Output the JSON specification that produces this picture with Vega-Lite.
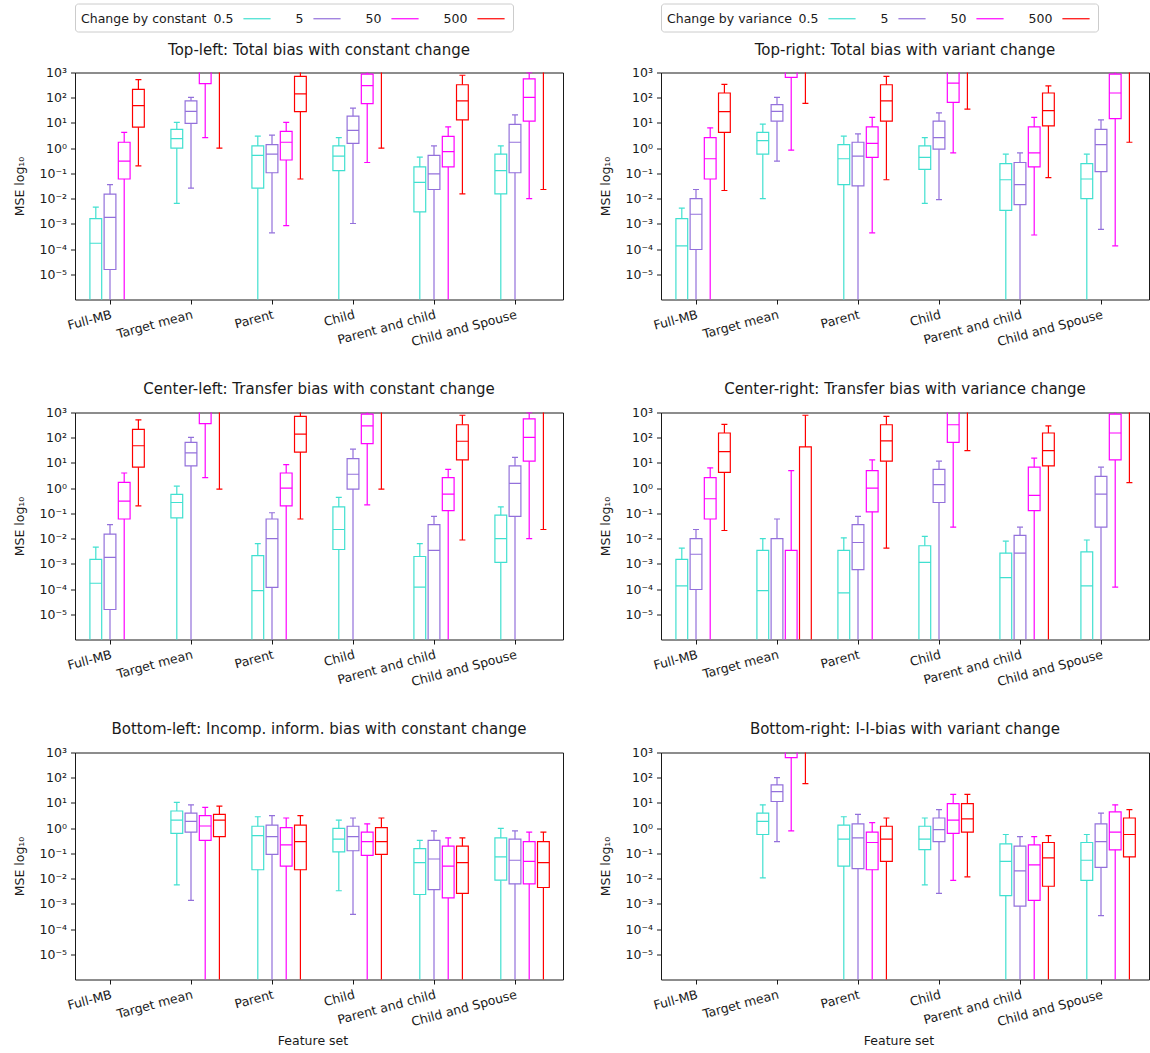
{
"$schema": "https://vega.github.io/schema/vega-lite/v6.json",
"padding": {"left": 13, "top": 2.5, "right": 0, "bottom": 0},
"bounds": "flush",
"columns": 2,
"spacing": {"row": 113, "column": 98},
"data": {"values": [
{"panel":"TL","feature":"Full-MB","series":"0.5","low":1e-7,"q1":1e-7,"median":1.7e-4,"q3":1.6e-3,"high":4.6e-3},
{"panel":"TL","feature":"Full-MB","series":"5","low":1e-7,"q1":1.55e-5,"median":1.8e-3,"q3":0.015,"high":0.036},
{"panel":"TL","feature":"Full-MB","series":"50","low":1e-7,"q1":0.06,"median":0.305,"q3":1.72,"high":4.2},
{"panel":"TL","feature":"Full-MB","series":"500","low":0.2,"q1":6.8,"median":49,"q3":215,"high":525},
{"panel":"TL","feature":"Target mean","series":"0.5","low":6.5e-3,"q1":1.0,"median":2.4,"q3":5.6,"high":10.6},
{"panel":"TL","feature":"Target mean","series":"5","low":0.026,"q1":9.7,"median":29,"q3":75,"high":104},
{"panel":"TL","feature":"Target mean","series":"50","low":2.6,"q1":365,"median":1e5,"q3":1e5,"high":1e5},
{"panel":"TL","feature":"Target mean","series":"500","low":1.0,"q1":1e5,"median":1e5,"q3":1e5,"high":1e5},
{"panel":"TL","feature":"Parent","series":"0.5","low":1e-7,"q1":0.026,"median":0.52,"q3":1.23,"high":3.0},
{"panel":"TL","feature":"Parent","series":"5","low":4.4e-4,"q1":0.106,"median":0.58,"q3":1.38,"high":3.3},
{"panel":"TL","feature":"Parent","series":"50","low":8.5e-4,"q1":0.34,"median":1.72,"q3":4.6,"high":10.6},
{"panel":"TL","feature":"Parent","series":"500","low":0.06,"q1":28,"median":141,"q3":696,"high":1e5},
{"panel":"TL","feature":"Child","series":"0.5","low":1e-7,"q1":0.128,"median":0.48,"q3":1.23,"high":2.6},
{"panel":"TL","feature":"Child","series":"5","low":1.03e-3,"q1":1.54,"median":5.1,"q3":18.5,"high":39},
{"panel":"TL","feature":"Child","series":"50","low":0.27,"q1":58,"median":300,"q3":870,"high":1e5},
{"panel":"TL","feature":"Child","series":"500","low":1.0,"q1":1e5,"median":1e5,"q3":1e5,"high":1e5},
{"panel":"TL","feature":"Parent and child","series":"0.5","low":1e-7,"q1":2.97e-3,"median":0.044,"q3":0.18,"high":0.44},
{"panel":"TL","feature":"Parent and child","series":"5","low":1e-7,"q1":0.023,"median":0.095,"q3":0.52,"high":1.23},
{"panel":"TL","feature":"Parent and child","series":"50","low":1e-7,"q1":0.18,"median":0.73,"q3":2.93,"high":6.95},
{"panel":"TL","feature":"Parent and child","series":"500","low":0.0154,"q1":13.2,"median":75,"q3":327,"high":778},
{"panel":"TL","feature":"Child and Spouse","series":"0.5","low":1e-7,"q1":0.0154,"median":0.128,"q3":0.58,"high":1.23},
{"panel":"TL","feature":"Child and Spouse","series":"5","low":1e-7,"q1":0.106,"median":1.72,"q3":8.7,"high":20.7},
{"panel":"TL","feature":"Child and Spouse","series":"50","low":0.0099,"q1":11.8,"median":104,"q3":556,"high":980},
{"panel":"TL","feature":"Child and Spouse","series":"500","low":0.023,"q1":1e5,"median":1e5,"q3":1e5,"high":1e5},
{"panel":"TR","feature":"Full-MB","series":"0.5","low":1e-7,"q1":1e-7,"median":1.34e-4,"q3":1.6e-3,"high":4.2e-3},
{"panel":"TR","feature":"Full-MB","series":"5","low":1e-7,"q1":9.6e-5,"median":2.4e-3,"q3":9.9e-3,"high":0.023},
{"panel":"TR","feature":"Full-MB","series":"50","low":1e-7,"q1":0.06,"median":0.38,"q3":2.6,"high":6.4},
{"panel":"TR","feature":"Full-MB","series":"500","low":0.021,"q1":4.2,"median":28,"q3":154,"high":337},
{"panel":"TR","feature":"Target mean","series":"0.5","low":0.0099,"q1":0.58,"median":1.98,"q3":4.2,"high":9.0},
{"panel":"TR","feature":"Target mean","series":"5","low":0.305,"q1":11.8,"median":29,"q3":53,"high":104},
{"panel":"TR","feature":"Target mean","series":"50","low":0.83,"q1":640,"median":1e5,"q3":1e5,"high":1e5},
{"panel":"TR","feature":"Target mean","series":"500","low":60,"q1":1e5,"median":1e5,"q3":1e5,"high":1e5},
{"panel":"TR","feature":"Parent","series":"0.5","low":1e-7,"q1":0.036,"median":0.38,"q3":1.38,"high":3.0},
{"panel":"TR","feature":"Parent","series":"5","low":1e-7,"q1":0.032,"median":0.48,"q3":1.72,"high":3.66},
{"panel":"TR","feature":"Parent","series":"50","low":4.4e-4,"q1":0.43,"median":1.54,"q3":6.95,"high":16.5},
{"panel":"TR","feature":"Parent","series":"500","low":0.056,"q1":11.8,"median":75,"q3":327,"high":696},
{"panel":"TR","feature":"Child","series":"0.5","low":6.5e-3,"q1":0.144,"median":0.43,"q3":1.23,"high":2.6},
{"panel":"TR","feature":"Child","series":"5","low":9.1e-3,"q1":0.91,"median":2.6,"q3":11.8,"high":25},
{"panel":"TR","feature":"Child","series":"50","low":0.65,"q1":65,"median":377,"q3":1e5,"high":1e5},
{"panel":"TR","feature":"Child","series":"500","low":35,"q1":1e5,"median":1e5,"q3":1e5,"high":1e5},
{"panel":"TR","feature":"Parent and child","series":"0.5","low":1e-7,"q1":3.4e-3,"median":0.056,"q3":0.244,"high":0.58},
{"panel":"TR","feature":"Parent and child","series":"5","low":1e-7,"q1":5.8e-3,"median":0.036,"q3":0.27,"high":0.65},
{"panel":"TR","feature":"Parent and child","series":"50","low":3.6e-4,"q1":0.18,"median":0.65,"q3":6.95,"high":16.5},
{"panel":"TR","feature":"Parent and child","series":"500","low":0.068,"q1":7.6,"median":31,"q3":154,"high":293},
{"panel":"TR","feature":"Child and Spouse","series":"0.5","low":1e-7,"q1":0.0099,"median":0.06,"q3":0.244,"high":0.58},
{"panel":"TR","feature":"Child and Spouse","series":"5","low":6.0e-4,"q1":0.118,"median":1.38,"q3":5.6,"high":13.2},
{"panel":"TR","feature":"Child and Spouse","series":"50","low":1.34e-4,"q1":14.8,"median":154,"q3":870,"high":1e5},
{"panel":"TR","feature":"Child and Spouse","series":"500","low":1.72,"q1":1e5,"median":1e5,"q3":1e5,"high":1e5},
{"panel":"CL","feature":"Full-MB","series":"0.5","low":1e-7,"q1":1e-7,"median":1.7e-4,"q3":1.5e-3,"high":4.6e-3},
{"panel":"CL","feature":"Full-MB","series":"5","low":1e-7,"q1":1.55e-5,"median":1.8e-3,"q3":0.015,"high":0.036},
{"panel":"CL","feature":"Full-MB","series":"50","low":1e-7,"q1":0.06,"median":0.305,"q3":1.7,"high":4.0},
{"panel":"CL","feature":"Full-MB","series":"500","low":0.2,"q1":6.8,"median":48,"q3":215,"high":512},
{"panel":"CL","feature":"Target mean","series":"0.5","low":1e-7,"q1":0.066,"median":0.27,"q3":0.565,"high":1.2},
{"panel":"CL","feature":"Target mean","series":"5","low":1e-7,"q1":7.6,"median":25,"q3":65,"high":104},
{"panel":"CL","feature":"Target mean","series":"50","low":2.6,"q1":365,"median":1e5,"q3":1e5,"high":1e5},
{"panel":"CL","feature":"Target mean","series":"500","low":0.91,"q1":1e5,"median":1e5,"q3":1e5,"high":1e5},
{"panel":"CL","feature":"Parent","series":"0.5","low":1e-7,"q1":1e-7,"median":8.6e-5,"q3":2.1e-3,"high":6.3e-3},
{"panel":"CL","feature":"Parent","series":"5","low":1e-7,"q1":1.17e-4,"median":0.0099,"q3":0.06,"high":0.106},
{"panel":"CL","feature":"Parent","series":"50","low":1e-7,"q1":0.2,"median":1.0,"q3":4.0,"high":8.5},
{"panel":"CL","feature":"Parent","series":"500","low":0.06,"q1":27,"median":138,"q3":696,"high":1e5},
{"panel":"CL","feature":"Child","series":"0.5","low":1e-7,"q1":3.7e-3,"median":0.023,"q3":0.18,"high":0.43},
{"panel":"CL","feature":"Child","series":"5","low":1e-7,"q1":0.91,"median":3.56,"q3":14.8,"high":35},
{"panel":"CL","feature":"Child","series":"50","low":0.218,"q1":58,"median":293,"q3":870,"high":1e5},
{"panel":"CL","feature":"Child","series":"500","low":0.91,"q1":1e5,"median":1e5,"q3":1e5,"high":1e5},
{"panel":"CL","feature":"Parent and child","series":"0.5","low":1e-7,"q1":1e-7,"median":1.2e-4,"q3":1.95e-3,"high":6.3e-3},
{"panel":"CL","feature":"Parent and child","series":"5","low":1e-7,"q1":1e-7,"median":3.4e-3,"q3":0.0356,"high":0.0757},
{"panel":"CL","feature":"Parent and child","series":"50","low":1e-7,"q1":0.128,"median":0.58,"q3":2.6,"high":5.6},
{"panel":"CL","feature":"Parent and child","series":"500","low":8.8e-3,"q1":13.2,"median":72.6,"q3":327,"high":778},
{"panel":"CL","feature":"Child and Spouse","series":"0.5","low":1e-7,"q1":1.15e-3,"median":0.0099,"q3":0.0846,"high":0.18},
{"panel":"CL","feature":"Child and Spouse","series":"5","low":1e-7,"q1":0.0757,"median":1.54,"q3":7.6,"high":16.5},
{"panel":"CL","feature":"Child and Spouse","series":"50","low":0.0099,"q1":11.8,"median":104,"q3":556,"high":980},
{"panel":"CL","feature":"Child and Spouse","series":"500","low":0.023,"q1":1e5,"median":1e5,"q3":1e5,"high":1e5},
{"panel":"CR","feature":"Full-MB","series":"0.5","low":1e-7,"q1":1e-7,"median":1.34e-4,"q3":1.5e-3,"high":4.2e-3},
{"panel":"CR","feature":"Full-MB","series":"5","low":1e-7,"q1":9.6e-5,"median":2.4e-3,"q3":0.0099,"high":0.023},
{"panel":"CR","feature":"Full-MB","series":"50","low":1e-7,"q1":0.06,"median":0.38,"q3":2.6,"high":6.4},
{"panel":"CR","feature":"Full-MB","series":"500","low":0.021,"q1":4.2,"median":28,"q3":154,"high":337},
{"panel":"CR","feature":"Target mean","series":"0.5","low":1e-7,"q1":1e-7,"median":8.6e-5,"q3":3.4e-3,"high":0.0099},
{"panel":"CR","feature":"Target mean","series":"5","low":1e-7,"q1":1e-7,"median":1e-7,"q3":0.0099,"high":0.06},
{"panel":"CR","feature":"Target mean","series":"50","low":1e-7,"q1":1e-7,"median":1e-7,"q3":3.4e-3,"high":5.0},
{"panel":"CR","feature":"Target mean","series":"500","low":1e-7,"q1":1e-7,"median":1e-7,"q3":43,"high":778},
{"panel":"CR","feature":"Parent","series":"0.5","low":1e-7,"q1":1e-7,"median":7.0e-5,"q3":3.4e-3,"high":0.0107},
{"panel":"CR","feature":"Parent","series":"5","low":1e-7,"q1":5.9e-4,"median":7.0e-3,"q3":0.0356,"high":0.0757},
{"panel":"CR","feature":"Parent","series":"50","low":1e-7,"q1":0.115,"median":1.0,"q3":5.0,"high":13.2},
{"panel":"CR","feature":"Parent","series":"500","low":4.2e-3,"q1":11.8,"median":75,"q3":327,"high":696},
{"panel":"CR","feature":"Child","series":"0.5","low":1e-7,"q1":1e-7,"median":1.15e-3,"q3":5.2e-3,"high":0.0123},
{"panel":"CR","feature":"Child","series":"5","low":1e-7,"q1":0.27,"median":1.38,"q3":5.6,"high":11.8},
{"panel":"CR","feature":"Child","series":"50","low":0.0285,"q1":65,"median":327,"q3":1e5,"high":1e5},
{"panel":"CR","feature":"Child","series":"500","low":31,"q1":1e5,"median":1e5,"q3":1e5,"high":1e5},
{"panel":"CR","feature":"Parent and child","series":"0.5","low":1e-7,"q1":1e-7,"median":2.85e-4,"q3":2.65e-3,"high":7.9e-3},
{"panel":"CR","feature":"Parent and child","series":"5","low":1e-7,"q1":1e-7,"median":2.65e-3,"q3":0.0134,"high":0.0285},
{"panel":"CR","feature":"Parent and child","series":"50","low":1e-7,"q1":0.128,"median":0.52,"q3":6.8,"high":15.6},
{"panel":"CR","feature":"Parent and child","series":"500","low":1e-7,"q1":7.6,"median":31,"q3":154,"high":293},
{"panel":"CR","feature":"Child and Spouse","series":"0.5","low":1e-7,"q1":1e-7,"median":1.34e-4,"q3":2.97e-3,"high":8.8e-3},
{"panel":"CR","feature":"Child and Spouse","series":"5","low":1e-7,"q1":0.0285,"median":0.58,"q3":2.93,"high":6.8},
{"panel":"CR","feature":"Child and Spouse","series":"50","low":1.2e-4,"q1":13.2,"median":154,"q3":870,"high":1e5},
{"panel":"CR","feature":"Child and Spouse","series":"500","low":1.67,"q1":1e5,"median":1e5,"q3":1e5,"high":1e5},
{"panel":"BL","feature":"Target mean","series":"0.5","low":5.6e-3,"q1":0.625,"median":2.08,"q3":4.8,"high":10.5},
{"panel":"BL","feature":"Target mean","series":"5","low":1.37e-3,"q1":0.7,"median":1.86,"q3":3.95,"high":8.4},
{"panel":"BL","feature":"Target mean","series":"50","low":1e-7,"q1":0.33,"median":1.22,"q3":3.16,"high":6.7},
{"panel":"BL","feature":"Target mean","series":"500","low":1e-7,"q1":0.46,"median":2.08,"q3":3.54,"high":7.5},
{"panel":"BL","feature":"Parent","series":"0.5","low":1e-7,"q1":0.0225,"median":0.51,"q3":1.19,"high":2.83},
{"panel":"BL","feature":"Parent","series":"5","low":1e-7,"q1":0.091,"median":0.46,"q3":1.33,"high":3.16},
{"panel":"BL","feature":"Parent","series":"50","low":1e-7,"q1":0.0315,"median":0.216,"q3":1.06,"high":2.53},
{"panel":"BL","feature":"Parent","series":"500","low":1e-7,"q1":0.0225,"median":0.294,"q3":1.33,"high":3.16},
{"panel":"BL","feature":"Child","series":"0.5","low":3.3e-3,"q1":0.114,"median":0.37,"q3":0.98,"high":2.08},
{"panel":"BL","feature":"Child","series":"5","low":3.8e-4,"q1":0.127,"median":0.46,"q3":1.19,"high":2.53},
{"panel":"BL","feature":"Child","series":"50","low":1e-7,"q1":0.0836,"median":0.294,"q3":0.7,"high":1.49},
{"panel":"BL","feature":"Child","series":"500","low":1e-7,"q1":0.091,"median":0.294,"q3":1.06,"high":2.53},
{"panel":"BL","feature":"Parent and child","series":"0.5","low":1e-7,"q1":2.34e-3,"median":0.043,"q3":0.155,"high":0.33},
{"panel":"BL","feature":"Parent and child","series":"5","low":1e-7,"q1":3.66e-3,"median":0.06,"q3":0.33,"high":0.78},
{"panel":"BL","feature":"Parent and child","series":"50","low":1e-7,"q1":1.72e-3,"median":0.0315,"q3":0.193,"high":0.41},
{"panel":"BL","feature":"Parent and child","series":"500","low":1e-7,"q1":2.6e-3,"median":0.043,"q3":0.193,"high":0.41},
{"panel":"BL","feature":"Child and Spouse","series":"0.5","low":1e-7,"q1":8.7e-3,"median":0.073,"q3":0.41,"high":0.98},
{"panel":"BL","feature":"Child and Spouse","series":"5","low":1e-7,"q1":6.2e-3,"median":0.0535,"q3":0.37,"high":0.78},
{"panel":"BL","feature":"Child and Spouse","series":"50","low":1e-7,"q1":6.2e-3,"median":0.0478,"q3":0.294,"high":0.7},
{"panel":"BL","feature":"Child and Spouse","series":"500","low":1e-7,"q1":4.45e-3,"median":0.043,"q3":0.294,"high":0.7},
{"panel":"BR","feature":"Target mean","series":"0.5","low":0.0106,"q1":0.56,"median":1.86,"q3":3.95,"high":8.4},
{"panel":"BR","feature":"Target mean","series":"5","low":0.294,"q1":11.4,"median":28,"q3":52,"high":101},
{"panel":"BR","feature":"Target mean","series":"50","low":0.78,"q1":622,"median":1e5,"q3":1e5,"high":1e5},
{"panel":"BR","feature":"Target mean","series":"500","low":58,"q1":1e5,"median":1e5,"q3":1e5,"high":1e5},
{"panel":"BR","feature":"Parent","series":"0.5","low":1e-7,"q1":0.0315,"median":0.37,"q3":1.33,"high":2.83},
{"panel":"BR","feature":"Parent","series":"5","low":1e-7,"q1":0.025,"median":0.41,"q3":1.49,"high":3.54},
{"panel":"BR","feature":"Parent","series":"50","low":1e-7,"q1":0.0225,"median":0.27,"q3":0.7,"high":1.66},
{"panel":"BR","feature":"Parent","series":"500","low":1e-7,"q1":0.0478,"median":0.37,"q3":1.19,"high":2.53},
{"panel":"BR","feature":"Child","series":"0.5","low":5.6e-3,"q1":0.142,"median":0.37,"q3":1.19,"high":2.53},
{"panel":"BR","feature":"Child","series":"5","low":2.6e-3,"q1":0.294,"median":0.875,"q3":2.53,"high":5.4},
{"panel":"BR","feature":"Child","series":"50","low":8.5e-3,"q1":0.625,"median":2.08,"q3":9.4,"high":21.7},
{"panel":"BR","feature":"Child","series":"500","low":0.0118,"q1":0.7,"median":2.33,"q3":9.4,"high":21.7},
{"panel":"BR","feature":"Parent and child","series":"0.5","low":1e-7,"q1":2.1e-3,"median":0.0478,"q3":0.24,"high":0.56},
{"panel":"BR","feature":"Parent and child","series":"5","low":1e-7,"q1":8.1e-4,"median":0.0201,"q3":0.193,"high":0.46},
{"panel":"BR","feature":"Parent and child","series":"50","low":1e-7,"q1":1.37e-3,"median":0.0351,"q3":0.216,"high":0.46},
{"panel":"BR","feature":"Parent and child","series":"500","low":1e-7,"q1":4.98e-3,"median":0.0668,"q3":0.27,"high":0.51},
{"panel":"BR","feature":"Child and Spouse","series":"0.5","low":1e-7,"q1":8.5e-3,"median":0.0535,"q3":0.27,"high":0.56},
{"panel":"BR","feature":"Child and Spouse","series":"5","low":3.4e-4,"q1":0.0281,"median":0.294,"q3":1.49,"high":3.95},
{"panel":"BR","feature":"Child and Spouse","series":"50","low":1e-7,"q1":0.138,"median":0.7,"q3":4.43,"high":8.4},
{"panel":"BR","feature":"Child and Spouse","series":"500","low":1e-7,"q1":0.073,"median":0.56,"q3":2.53,"high":5.4}
]},
"resolve": {"scale": {"color": "independent", "strokeWidth": "independent"}, "legend": {"color": "independent", "strokeWidth": "independent"}},
"concat": [
 {"width": 488, "height": 227, "title": {"text": "Top-left: Total bias with constant change", "offset": -54.5},
  "transform": [{"filter": "datum.panel === 'TL'"}],
  "encoding": {
   "x": {"field": "feature", "type": "nominal", "scale": {"domain": ["Full-MB","Target mean","Parent","Child","Parent and child","Child and Spouse"], "range": [-5.5, 480.5], "paddingInner": 0, "paddingOuter": 0}, "axis": {"title": null}},
   "xOffset": {"field": "series", "type": "nominal", "scale": {"domain": ["0.5","5","50","500"], "paddingInner": 0.17, "paddingOuter": 0.937, "align": 0.767}},
   "color": {"field": "series", "type": "nominal", "scale": {"domain": ["0.5","5","50","500"], "range": ["#40E0D0","#9370DB","#FF00FF","#FF0000"]},
     "legend": {"title": "Change by constant", "orient": "none", "legendX": 0, "legendY": -69, "direction": "horizontal", "titleOrient": "left", "titleAnchor": "start", "titleAlign": "left", "titleBaseline": "line-top", "titleLineHeight": 18, "titlePadding": 41, "labelBaseline": "middle", "labelAlign": "right", "labelOffset": -32.6, "symbolType": "M-1.7,0H1.7", "symbolSize": 256, "symbolStrokeWidth": 1.8, "symbolOpacity": 1, "columnPadding": 22, "padding": 6, "strokeColor": "#cccccc", "fillColor": "white", "cornerRadius": 3}},
   "strokeWidth": {"field": "series", "type": "nominal", "scale": {"domain": ["0.5","5","50","500"], "range": [1.2,1.2,1.6,1.6]}, "legend": null}
  },
  "layer": [
   {"mark": {"type": "rule", "clip": true}, "encoding": {"y": {"field": "low", "type": "quantitative", "scale": {"type": "log", "domain": [5.5e-6, 1000]}, "axis": {"title": "MSE log₁₀", "values": [1e-5,1e-4,1e-3,1e-2,1e-1,1,10,100,1000], "labelExpr": "datum.value >= 999 ? '10³' : datum.value >= 99 ? '10²' : datum.value >= 9 ? '10¹' : datum.value >= 0.9 ? '10⁰' : datum.value >= 0.09 ? '10⁻¹' : datum.value >= 0.009 ? '10⁻²' : datum.value >= 0.0009 ? '10⁻³' : datum.value >= 0.00009 ? '10⁻⁴' : '10⁻⁵'"}}, "y2": {"field": "q1"}}},
   {"mark": {"type": "rule", "clip": true}, "encoding": {"y": {"field": "q3", "type": "quantitative"}, "y2": {"field": "high"}}},
   {"mark": {"type": "bar", "clip": true, "filled": false}, "encoding": {"y": {"field": "q1", "type": "quantitative"}, "y2": {"field": "q3"}}},
   {"mark": {"type": "point", "clip": true, "shape": "stroke", "filled": false, "opacity": 1, "size": 139}, "encoding": {"y": {"field": "median", "type": "quantitative"}}},
   {"mark": {"type": "point", "clip": true, "shape": "stroke", "filled": false, "opacity": 1, "size": 36}, "encoding": {"y": {"field": "low", "type": "quantitative"}}},
   {"mark": {"type": "point", "clip": true, "shape": "stroke", "filled": false, "opacity": 1, "size": 36}, "encoding": {"y": {"field": "high", "type": "quantitative"}}}
  ]
 },
 {"width": 488, "height": 227, "title": {"text": "Top-right: Total bias with variant change", "offset": -54.5},
  "transform": [{"filter": "datum.panel === 'TR'"}],
  "encoding": {
   "x": {"field": "feature", "type": "nominal", "scale": {"domain": ["Full-MB","Target mean","Parent","Child","Parent and child","Child and Spouse"], "range": [-5.5, 480.5], "paddingInner": 0, "paddingOuter": 0}, "axis": {"title": null}},
   "xOffset": {"field": "series", "type": "nominal", "scale": {"domain": ["0.5","5","50","500"], "paddingInner": 0.17, "paddingOuter": 0.937, "align": 0.767}},
   "color": {"field": "series", "type": "nominal", "scale": {"domain": ["0.5","5","50","500"], "range": ["#40E0D0","#9370DB","#FF00FF","#FF0000"]},
     "legend": {"title": "Change by variance", "orient": "none", "legendX": 0, "legendY": -69, "direction": "horizontal", "titleOrient": "left", "titleAnchor": "start", "titleAlign": "left", "titleBaseline": "line-top", "titleLineHeight": 18, "titlePadding": 41, "labelBaseline": "middle", "labelAlign": "right", "labelOffset": -32.6, "symbolType": "M-1.7,0H1.7", "symbolSize": 256, "symbolStrokeWidth": 1.8, "symbolOpacity": 1, "columnPadding": 22, "padding": 6, "strokeColor": "#cccccc", "fillColor": "white", "cornerRadius": 3}},
   "strokeWidth": {"field": "series", "type": "nominal", "scale": {"domain": ["0.5","5","50","500"], "range": [1.2,1.2,1.6,1.6]}, "legend": null}
  },
  "layer": [
   {"mark": {"type": "rule", "clip": true}, "encoding": {"y": {"field": "low", "type": "quantitative", "scale": {"type": "log", "domain": [5.5e-6, 1000]}, "axis": {"title": "MSE log₁₀", "values": [1e-5,1e-4,1e-3,1e-2,1e-1,1,10,100,1000], "labelExpr": "datum.value >= 999 ? '10³' : datum.value >= 99 ? '10²' : datum.value >= 9 ? '10¹' : datum.value >= 0.9 ? '10⁰' : datum.value >= 0.09 ? '10⁻¹' : datum.value >= 0.009 ? '10⁻²' : datum.value >= 0.0009 ? '10⁻³' : datum.value >= 0.00009 ? '10⁻⁴' : '10⁻⁵'"}}, "y2": {"field": "q1"}}},
   {"mark": {"type": "rule", "clip": true}, "encoding": {"y": {"field": "q3", "type": "quantitative"}, "y2": {"field": "high"}}},
   {"mark": {"type": "bar", "clip": true, "filled": false}, "encoding": {"y": {"field": "q1", "type": "quantitative"}, "y2": {"field": "q3"}}},
   {"mark": {"type": "point", "clip": true, "shape": "stroke", "filled": false, "opacity": 1, "size": 139}, "encoding": {"y": {"field": "median", "type": "quantitative"}}},
   {"mark": {"type": "point", "clip": true, "shape": "stroke", "filled": false, "opacity": 1, "size": 36}, "encoding": {"y": {"field": "low", "type": "quantitative"}}},
   {"mark": {"type": "point", "clip": true, "shape": "stroke", "filled": false, "opacity": 1, "size": 36}, "encoding": {"y": {"field": "high", "type": "quantitative"}}}
  ]
 },
 {"width": 488, "height": 227, "title": {"text": "Center-left: Transfer bias with constant change", "offset": 10},
  "transform": [{"filter": "datum.panel === 'CL'"}],
  "encoding": {
   "x": {"field": "feature", "type": "nominal", "scale": {"domain": ["Full-MB","Target mean","Parent","Child","Parent and child","Child and Spouse"], "range": [-5.5, 480.5], "paddingInner": 0, "paddingOuter": 0}, "axis": {"title": null}},
   "xOffset": {"field": "series", "type": "nominal", "scale": {"domain": ["0.5","5","50","500"], "paddingInner": 0.17, "paddingOuter": 0.937, "align": 0.767}},
   "color": {"field": "series", "type": "nominal", "scale": {"domain": ["0.5","5","50","500"], "range": ["#40E0D0","#9370DB","#FF00FF","#FF0000"]}, "legend": null},
   "strokeWidth": {"field": "series", "type": "nominal", "scale": {"domain": ["0.5","5","50","500"], "range": [1.2,1.2,1.6,1.6]}, "legend": null}
  },
  "layer": [
   {"mark": {"type": "rule", "clip": true}, "encoding": {"y": {"field": "low", "type": "quantitative", "scale": {"type": "log", "domain": [5.5e-6, 1000]}, "axis": {"title": "MSE log₁₀", "values": [1e-5,1e-4,1e-3,1e-2,1e-1,1,10,100,1000], "labelExpr": "datum.value >= 999 ? '10³' : datum.value >= 99 ? '10²' : datum.value >= 9 ? '10¹' : datum.value >= 0.9 ? '10⁰' : datum.value >= 0.09 ? '10⁻¹' : datum.value >= 0.009 ? '10⁻²' : datum.value >= 0.0009 ? '10⁻³' : datum.value >= 0.00009 ? '10⁻⁴' : '10⁻⁵'"}}, "y2": {"field": "q1"}}},
   {"mark": {"type": "rule", "clip": true}, "encoding": {"y": {"field": "q3", "type": "quantitative"}, "y2": {"field": "high"}}},
   {"mark": {"type": "bar", "clip": true, "filled": false}, "encoding": {"y": {"field": "q1", "type": "quantitative"}, "y2": {"field": "q3"}}},
   {"mark": {"type": "point", "clip": true, "shape": "stroke", "filled": false, "opacity": 1, "size": 139}, "encoding": {"y": {"field": "median", "type": "quantitative"}}},
   {"mark": {"type": "point", "clip": true, "shape": "stroke", "filled": false, "opacity": 1, "size": 36}, "encoding": {"y": {"field": "low", "type": "quantitative"}}},
   {"mark": {"type": "point", "clip": true, "shape": "stroke", "filled": false, "opacity": 1, "size": 36}, "encoding": {"y": {"field": "high", "type": "quantitative"}}}
  ]
 },
 {"width": 488, "height": 227, "title": {"text": "Center-right: Transfer bias with variance change", "offset": 10},
  "transform": [{"filter": "datum.panel === 'CR'"}],
  "encoding": {
   "x": {"field": "feature", "type": "nominal", "scale": {"domain": ["Full-MB","Target mean","Parent","Child","Parent and child","Child and Spouse"], "range": [-5.5, 480.5], "paddingInner": 0, "paddingOuter": 0}, "axis": {"title": null}},
   "xOffset": {"field": "series", "type": "nominal", "scale": {"domain": ["0.5","5","50","500"], "paddingInner": 0.17, "paddingOuter": 0.937, "align": 0.767}},
   "color": {"field": "series", "type": "nominal", "scale": {"domain": ["0.5","5","50","500"], "range": ["#40E0D0","#9370DB","#FF00FF","#FF0000"]}, "legend": null},
   "strokeWidth": {"field": "series", "type": "nominal", "scale": {"domain": ["0.5","5","50","500"], "range": [1.2,1.2,1.6,1.6]}, "legend": null}
  },
  "layer": [
   {"mark": {"type": "rule", "clip": true}, "encoding": {"y": {"field": "low", "type": "quantitative", "scale": {"type": "log", "domain": [5.5e-6, 1000]}, "axis": {"title": "MSE log₁₀", "values": [1e-5,1e-4,1e-3,1e-2,1e-1,1,10,100,1000], "labelExpr": "datum.value >= 999 ? '10³' : datum.value >= 99 ? '10²' : datum.value >= 9 ? '10¹' : datum.value >= 0.9 ? '10⁰' : datum.value >= 0.09 ? '10⁻¹' : datum.value >= 0.009 ? '10⁻²' : datum.value >= 0.0009 ? '10⁻³' : datum.value >= 0.00009 ? '10⁻⁴' : '10⁻⁵'"}}, "y2": {"field": "q1"}}},
   {"mark": {"type": "rule", "clip": true}, "encoding": {"y": {"field": "q3", "type": "quantitative"}, "y2": {"field": "high"}}},
   {"mark": {"type": "bar", "clip": true, "filled": false}, "encoding": {"y": {"field": "q1", "type": "quantitative"}, "y2": {"field": "q3"}}},
   {"mark": {"type": "point", "clip": true, "shape": "stroke", "filled": false, "opacity": 1, "size": 139}, "encoding": {"y": {"field": "median", "type": "quantitative"}}},
   {"mark": {"type": "point", "clip": true, "shape": "stroke", "filled": false, "opacity": 1, "size": 36}, "encoding": {"y": {"field": "low", "type": "quantitative"}}},
   {"mark": {"type": "point", "clip": true, "shape": "stroke", "filled": false, "opacity": 1, "size": 36}, "encoding": {"y": {"field": "high", "type": "quantitative"}}}
  ]
 },
 {"width": 488, "height": 227, "title": {"text": "Bottom-left: Incomp. inform. bias with constant change", "offset": 10},
  "transform": [{"filter": "datum.panel === 'BL'"}],
  "encoding": {
   "x": {"field": "feature", "type": "nominal", "scale": {"domain": ["Full-MB","Target mean","Parent","Child","Parent and child","Child and Spouse"], "range": [-5.5, 480.5], "paddingInner": 0, "paddingOuter": 0}, "axis": {"title": "Feature set", "titlePadding": 6}},
   "xOffset": {"field": "series", "type": "nominal", "scale": {"domain": ["0.5","5","50","500"], "paddingInner": 0.17, "paddingOuter": 0.937, "align": 0.767}},
   "color": {"field": "series", "type": "nominal", "scale": {"domain": ["0.5","5","50","500"], "range": ["#40E0D0","#9370DB","#FF00FF","#FF0000"]}, "legend": null},
   "strokeWidth": {"field": "series", "type": "nominal", "scale": {"domain": ["0.5","5","50","500"], "range": [1.2,1.2,1.6,1.6]}, "legend": null}
  },
  "layer": [
   {"mark": {"type": "rule", "clip": true}, "encoding": {"y": {"field": "low", "type": "quantitative", "scale": {"type": "log", "domain": [5.5e-6, 1000]}, "axis": {"title": "MSE log₁₀", "values": [1e-5,1e-4,1e-3,1e-2,1e-1,1,10,100,1000], "labelExpr": "datum.value >= 999 ? '10³' : datum.value >= 99 ? '10²' : datum.value >= 9 ? '10¹' : datum.value >= 0.9 ? '10⁰' : datum.value >= 0.09 ? '10⁻¹' : datum.value >= 0.009 ? '10⁻²' : datum.value >= 0.0009 ? '10⁻³' : datum.value >= 0.00009 ? '10⁻⁴' : '10⁻⁵'"}}, "y2": {"field": "q1"}}},
   {"mark": {"type": "rule", "clip": true}, "encoding": {"y": {"field": "q3", "type": "quantitative"}, "y2": {"field": "high"}}},
   {"mark": {"type": "bar", "clip": true, "filled": false}, "encoding": {"y": {"field": "q1", "type": "quantitative"}, "y2": {"field": "q3"}}},
   {"mark": {"type": "point", "clip": true, "shape": "stroke", "filled": false, "opacity": 1, "size": 139}, "encoding": {"y": {"field": "median", "type": "quantitative"}}},
   {"mark": {"type": "point", "clip": true, "shape": "stroke", "filled": false, "opacity": 1, "size": 36}, "encoding": {"y": {"field": "low", "type": "quantitative"}}},
   {"mark": {"type": "point", "clip": true, "shape": "stroke", "filled": false, "opacity": 1, "size": 36}, "encoding": {"y": {"field": "high", "type": "quantitative"}}}
  ]
 },
 {"width": 488, "height": 227, "title": {"text": "Bottom-right: I-I-bias  with variant change", "offset": 10},
  "transform": [{"filter": "datum.panel === 'BR'"}],
  "encoding": {
   "x": {"field": "feature", "type": "nominal", "scale": {"domain": ["Full-MB","Target mean","Parent","Child","Parent and child","Child and Spouse"], "range": [-5.5, 480.5], "paddingInner": 0, "paddingOuter": 0}, "axis": {"title": "Feature set", "titlePadding": 6}},
   "xOffset": {"field": "series", "type": "nominal", "scale": {"domain": ["0.5","5","50","500"], "paddingInner": 0.17, "paddingOuter": 0.937, "align": 0.767}},
   "color": {"field": "series", "type": "nominal", "scale": {"domain": ["0.5","5","50","500"], "range": ["#40E0D0","#9370DB","#FF00FF","#FF0000"]}, "legend": null},
   "strokeWidth": {"field": "series", "type": "nominal", "scale": {"domain": ["0.5","5","50","500"], "range": [1.2,1.2,1.6,1.6]}, "legend": null}
  },
  "layer": [
   {"mark": {"type": "rule", "clip": true}, "encoding": {"y": {"field": "low", "type": "quantitative", "scale": {"type": "log", "domain": [5.5e-6, 1000]}, "axis": {"title": "MSE log₁₀", "values": [1e-5,1e-4,1e-3,1e-2,1e-1,1,10,100,1000], "labelExpr": "datum.value >= 999 ? '10³' : datum.value >= 99 ? '10²' : datum.value >= 9 ? '10¹' : datum.value >= 0.9 ? '10⁰' : datum.value >= 0.09 ? '10⁻¹' : datum.value >= 0.009 ? '10⁻²' : datum.value >= 0.0009 ? '10⁻³' : datum.value >= 0.00009 ? '10⁻⁴' : '10⁻⁵'"}}, "y2": {"field": "q1"}}},
   {"mark": {"type": "rule", "clip": true}, "encoding": {"y": {"field": "q3", "type": "quantitative"}, "y2": {"field": "high"}}},
   {"mark": {"type": "bar", "clip": true, "filled": false}, "encoding": {"y": {"field": "q1", "type": "quantitative"}, "y2": {"field": "q3"}}},
   {"mark": {"type": "point", "clip": true, "shape": "stroke", "filled": false, "opacity": 1, "size": 139}, "encoding": {"y": {"field": "median", "type": "quantitative"}}},
   {"mark": {"type": "point", "clip": true, "shape": "stroke", "filled": false, "opacity": 1, "size": 36}, "encoding": {"y": {"field": "low", "type": "quantitative"}}},
   {"mark": {"type": "point", "clip": true, "shape": "stroke", "filled": false, "opacity": 1, "size": 36}, "encoding": {"y": {"field": "high", "type": "quantitative"}}}
  ]
 }
],
"config": {
 "font": "DejaVu Sans",
 "view": {"stroke": "#1a1a1a", "strokeWidth": 1},
 "axis": {"domain": false, "grid": false, "tickColor": "#1a1a1a", "tickSize": 4.5, "labelColor": "#1a1a1a", "titleColor": "#1a1a1a", "labelFont": "DejaVu Sans", "titleFont": "DejaVu Sans", "labelFontSize": 12.5, "titleFontSize": 12.5, "titleFontWeight": "normal", "labelPadding": 4},
 "axisX": {"labelAngle": -15, "labelAlign": "right", "labelBaseline": "top", "labelOverlap": false, "labelLimit": 300},
 "axisY": {"titlePadding": 12, "labelOverlap": false},
 "title": {"font": "DejaVu Sans", "fontSize": 15, "fontWeight": "normal", "color": "#1a1a1a", "baseline": "alphabetic"},
 "legend": {"labelFont": "DejaVu Sans", "titleFont": "DejaVu Sans", "labelColor": "#1a1a1a", "titleColor": "#1a1a1a", "labelFontSize": 12.5, "titleFontSize": 12.5, "titleFontWeight": "normal"}
}
}
